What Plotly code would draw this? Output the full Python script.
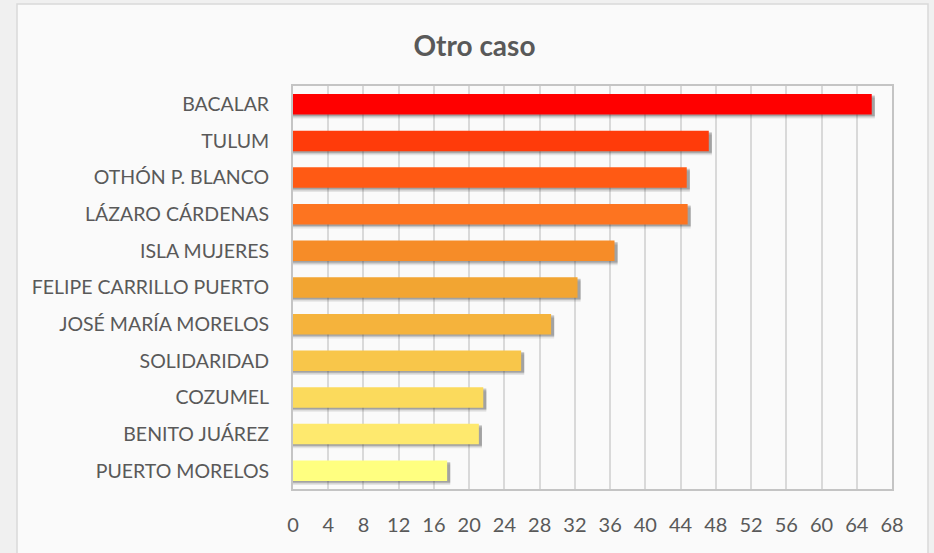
import plotly.graph_objects as go

# Municipios de Quintana Roo, "Otro caso"
municipios = [
    "BACALAR", "TULUM", "OTHÓN P. BLANCO", "LÁZARO CÁRDENAS", "ISLA MUJERES",
    "FELIPE CARRILLO PUERTO", "JOSÉ MARÍA MORELOS", "SOLIDARIDAD", "COZUMEL",
    "BENITO JUÁREZ", "PUERTO MORELOS",
]
valores = [65.7, 47.2, 44.7, 44.8, 36.5, 32.3, 29.3, 25.9, 21.6, 21.1, 17.5]
colores = [
    "#FF0000", "#FF3B0A", "#FF5A14", "#FD7420", "#F68C28", "#F2A532",
    "#F5B33C", "#F8C64A", "#FBDA5C", "#FEE96E", "#FFFF80",
]
ticks_x = list(range(0, 69, 4))

BAR_W = 0.56
FONT = "Lato, sans-serif"
fig = go.Figure()

# soft drop shadow under each bar
for shift, alpha in [(0.11, 0.10), (0.07, 0.16), (0.04, 0.22)]:
    fig.add_trace(go.Bar(
        x=[v + 0.35 for v in valores], y=municipios, orientation="h",
        width=BAR_W, offset=-BAR_W / 2 + shift,
        marker=dict(color=f"rgba(40,40,40,{alpha})", line=dict(width=0)),
        hoverinfo="skip", showlegend=False,
    ))

fig.add_trace(go.Bar(
    x=valores, y=municipios, orientation="h",
    width=BAR_W, offset=-BAR_W / 2,
    marker=dict(color=colores, line=dict(width=0)),
    showlegend=False,
))

fig.update_layout(
    width=934, height=553,
    margin=dict(l=293, r=42, t=86, b=64),
    paper_bgcolor="#F0F0F0",
    plot_bgcolor="rgba(0,0,0,0)",
    barmode="overlay",
    font=dict(family=FONT, color="#595959"),
    title=dict(
        text="<b>Otro caso</b>", x=0.508, xanchor="center",
        y=1 - 46 / 553, yanchor="middle",
        font=dict(size=28, color="#595959", family=FONT),
    ),
    shapes=[dict(
        type="rect", xref="paper", yref="paper", layer="below",
        x0=-293 / 599 + 17 / 599, x1=1 + 36 / 599,
        y0=-64 / 403 - 0.05, y1=1 + 82 / 403,
        fillcolor="#FAFAFA", line=dict(color="#D9D9D9", width=1.5),
    )],
    xaxis=dict(
        range=[0, 68], tickvals=ticks_x, ticktext=[str(t) for t in ticks_x],
        showgrid=True, gridcolor="#D9D9D9", gridwidth=2,
        zeroline=False, showline=True, linecolor="#C4C4C4", linewidth=2,
        mirror=True, ticks="outside", ticklen=17, tickcolor="rgba(0,0,0,0)",
        tickfont=dict(size=20, color="#595959"),
    ),
    yaxis=dict(
        autorange="reversed", showgrid=False, showline=True,
        linecolor="#C4C4C4", linewidth=2, mirror=True,
        ticks="outside", ticklen=18, tickcolor="rgba(0,0,0,0)",
        tickfont=dict(size=19.5, color="#595959"),
    ),
)

fig.write_html("out.html")
